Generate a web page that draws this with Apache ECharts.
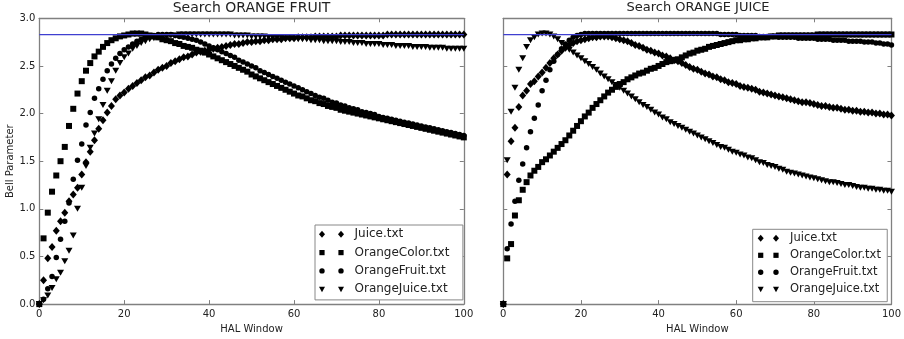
<!DOCTYPE html>
<html>
<head>
<meta charset="utf-8">
<script src="https://cdn.jsdelivr.net/npm/echarts@6/dist/echarts.min.js"></script>
<style>
  html, body { margin: 0; padding: 0; background: #fff; }
  #chart { width: 904px; height: 339px; }
</style>
</head>
<body>
<div id="chart"></div>
<script>
// HAL window sizes 0..100
const halWindow = Array.from({ length: 101 }, (_, i) => i);

// Tsirelson bound 2*sqrt(2), drawn as a reference line
const tsirelsonBound = 2.828;

const seriesNames = ['Juice.txt', 'OrangeColor.txt', 'OrangeFruit.txt', 'OrangeJuice.txt'];
const xTicks = [0, 20, 40, 60, 80, 100];
const yTicks = [0.0, 0.5, 1.0, 1.5, 2.0, 2.5, 3.0];

// ---- Search ORANGE FRUIT ----
const fruitJuice = [
  0.00,0.25,0.48,0.60,0.77,0.87,0.96,1.08,1.15,1.22,
  1.36,1.49,1.60,1.72,1.84,1.93,2.01,2.08,2.15,2.19,
  2.22,2.26,2.29,2.32,2.35,2.38,2.40,2.43,2.46,2.48,
  2.50,2.53,2.55,2.57,2.59,2.60,2.62,2.64,2.65,2.66,
  2.67,2.68,2.69,2.70,2.71,2.72,2.73,2.73,2.74,2.75,
  2.75,2.76,2.76,2.77,2.77,2.78,2.78,2.78,2.79,2.79,
  2.79,2.80,2.80,2.80,2.80,2.81,2.81,2.81,2.81,2.81,
  2.81,2.82,2.82,2.82,2.82,2.82,2.82,2.82,2.82,2.82,
  2.82,2.82,2.83,2.83,2.83,2.83,2.83,2.83,2.83,2.83,
  2.83,2.83,2.83,2.83,2.83,2.83,2.83,2.83,2.83,2.83,2.83
];
const fruitOrangeColor = [
  0.00,0.69,0.96,1.18,1.35,1.50,1.65,1.87,2.05,2.21,
  2.34,2.45,2.53,2.60,2.65,2.70,2.74,2.77,2.79,2.81,
  2.82,2.83,2.84,2.84,2.84,2.83,2.82,2.81,2.80,2.78,
  2.77,2.76,2.74,2.73,2.71,2.70,2.69,2.67,2.66,2.64,
  2.62,2.60,2.58,2.56,2.54,2.52,2.50,2.48,2.46,2.44,
  2.41,2.39,2.37,2.35,2.33,2.31,2.29,2.27,2.25,2.23,
  2.21,2.19,2.18,2.16,2.14,2.13,2.11,2.10,2.08,2.07,
  2.06,2.04,2.03,2.02,2.01,2.00,1.99,1.98,1.97,1.96,
  1.95,1.94,1.93,1.92,1.91,1.90,1.89,1.88,1.87,1.86,
  1.85,1.84,1.83,1.82,1.81,1.80,1.79,1.78,1.77,1.76,1.75
];
const fruitOrangeFruit = [
  0.00,0.05,0.16,0.29,0.49,0.68,0.87,1.06,1.31,1.51,
  1.68,1.88,2.01,2.16,2.26,2.36,2.45,2.52,2.58,2.63,
  2.67,2.70,2.73,2.76,2.78,2.80,2.81,2.82,2.83,2.83,
  2.83,2.83,2.82,2.81,2.80,2.79,2.78,2.77,2.75,2.73,
  2.71,2.69,2.67,2.65,2.63,2.61,2.59,2.56,2.54,2.52,
  2.50,2.48,2.45,2.43,2.41,2.39,2.37,2.35,2.33,2.31,
  2.29,2.27,2.25,2.23,2.21,2.19,2.17,2.16,2.14,2.12,
  2.11,2.09,2.08,2.06,2.05,2.04,2.02,2.01,2.00,1.99,
  1.97,1.96,1.95,1.94,1.93,1.92,1.91,1.90,1.89,1.88,
  1.87,1.86,1.85,1.84,1.83,1.82,1.81,1.80,1.79,1.78,1.77
];
const fruitOrangeJuice = [
  0.00,0.04,0.09,0.17,0.26,0.33,0.45,0.56,0.72,1.00,
  1.22,1.45,1.64,1.79,1.94,2.09,2.24,2.34,2.45,2.53,
  2.59,2.63,2.68,2.71,2.74,2.76,2.78,2.79,2.80,2.81,
  2.81,2.82,2.82,2.83,2.83,2.83,2.83,2.83,2.83,2.83,
  2.83,2.83,2.83,2.83,2.83,2.83,2.82,2.82,2.82,2.82,
  2.81,2.81,2.81,2.81,2.80,2.80,2.80,2.80,2.79,2.79,
  2.79,2.78,2.78,2.78,2.77,2.77,2.77,2.76,2.76,2.76,
  2.76,2.75,2.75,2.75,2.74,2.74,2.74,2.73,2.73,2.73,
  2.73,2.72,2.72,2.72,2.71,2.71,2.71,2.71,2.70,2.70,
  2.70,2.70,2.69,2.69,2.69,2.69,2.68,2.68,2.68,2.68,2.68
];

// ---- Search ORANGE JUICE ----
const juiceJuice = [
  0.00,1.36,1.71,1.85,2.07,2.19,2.24,2.31,2.34,2.39,
  2.43,2.48,2.53,2.58,2.62,2.66,2.69,2.72,2.74,2.76,
  2.77,2.78,2.79,2.80,2.80,2.81,2.81,2.81,2.80,2.79,
  2.78,2.77,2.76,2.74,2.72,2.71,2.69,2.67,2.66,2.64,
  2.63,2.61,2.60,2.58,2.56,2.55,2.53,2.51,2.49,2.47,
  2.46,2.44,2.42,2.41,2.39,2.38,2.36,2.35,2.33,2.32,
  2.31,2.29,2.28,2.27,2.26,2.25,2.23,2.22,2.21,2.20,
  2.19,2.18,2.17,2.16,2.15,2.14,2.13,2.12,2.12,2.11,
  2.10,2.09,2.08,2.08,2.07,2.06,2.06,2.05,2.04,2.04,
  2.03,2.03,2.02,2.02,2.01,2.01,2.00,2.00,1.99,1.99,1.98
];
const juiceOrangeColor = [
  0.00,0.48,0.63,0.93,1.09,1.20,1.28,1.35,1.40,1.44,
  1.49,1.52,1.56,1.60,1.64,1.68,1.72,1.77,1.82,1.87,
  1.92,1.97,2.01,2.06,2.10,2.14,2.18,2.22,2.25,2.28,
  2.31,2.33,2.36,2.38,2.40,2.42,2.43,2.45,2.47,2.48,
  2.50,2.52,2.54,2.55,2.56,2.57,2.59,2.61,2.63,2.64,
  2.66,2.67,2.68,2.70,2.71,2.72,2.73,2.74,2.75,2.76,
  2.77,2.77,2.78,2.78,2.79,2.79,2.80,2.80,2.80,2.81,
  2.81,2.82,2.82,2.82,2.82,2.82,2.82,2.82,2.82,2.82,
  2.82,2.83,2.83,2.83,2.83,2.83,2.83,2.83,2.83,2.83,
  2.83,2.83,2.83,2.83,2.83,2.83,2.83,2.83,2.83,2.83,2.83
];
const juiceOrangeFruit = [
  0.00,0.58,0.84,1.08,1.30,1.47,1.64,1.81,1.95,2.09,
  2.24,2.35,2.46,2.55,2.62,2.68,2.73,2.77,2.80,2.82,
  2.83,2.84,2.84,2.84,2.84,2.84,2.84,2.84,2.84,2.84,
  2.84,2.84,2.84,2.84,2.84,2.84,2.84,2.84,2.84,2.84,
  2.84,2.84,2.84,2.84,2.84,2.84,2.84,2.84,2.84,2.84,
  2.84,2.84,2.84,2.84,2.84,2.84,2.83,2.83,2.83,2.83,
  2.83,2.82,2.82,2.82,2.82,2.82,2.81,2.81,2.81,2.81,
  2.81,2.80,2.80,2.80,2.80,2.80,2.79,2.79,2.79,2.79,
  2.79,2.78,2.78,2.78,2.78,2.77,2.77,2.77,2.77,2.76,
  2.76,2.76,2.76,2.75,2.75,2.75,2.74,2.74,2.73,2.73,2.72
];
const juiceOrangeJuice = [
  0.00,1.51,2.02,2.27,2.46,2.58,2.70,2.77,2.80,2.83,
  2.84,2.84,2.83,2.81,2.78,2.74,2.70,2.67,2.64,2.61,
  2.58,2.55,2.52,2.49,2.46,2.42,2.39,2.36,2.33,2.30,
  2.27,2.24,2.21,2.18,2.15,2.12,2.09,2.07,2.04,2.01,
  1.99,1.96,1.94,1.91,1.89,1.87,1.85,1.83,1.81,1.79,
  1.77,1.75,1.73,1.71,1.69,1.67,1.65,1.64,1.62,1.60,
  1.59,1.57,1.56,1.54,1.53,1.51,1.49,1.48,1.46,1.45,
  1.44,1.42,1.41,1.39,1.38,1.37,1.36,1.35,1.34,1.33,
  1.32,1.31,1.30,1.29,1.28,1.28,1.27,1.26,1.25,1.25,
  1.24,1.23,1.22,1.22,1.21,1.21,1.20,1.20,1.19,1.19,1.18
];

const FONT = 'DejaVu Sans';
const TEXT = '#222';
const FRAME = '#808080';

// marker per file; legend icons are drawn inside a fixed 7x7 frame
// (the two zero-length segments pin the frame corners)
const ICON_FRAME = 'M0,0L0,0M7,7L7,7';
const markers = {
  'Juice.txt': {
    symbol: 'diamond', size: [7, 8],
    icon: 'path://' + ICON_FRAME + 'M3.5,0L6.5,3.5L3.5,7L0.5,3.5Z'
  },
  'OrangeColor.txt': {
    symbol: 'rect', size: 6,
    icon: 'path://' + ICON_FRAME + 'M0.9,0.9L6.1,0.9L6.1,6.1L0.9,6.1Z'
  },
  'OrangeFruit.txt': {
    symbol: 'circle', size: 5.5,
    icon: 'path://' + ICON_FRAME + 'M0.8,3.5A2.7,2.7,0,1,1,6.2,3.5A2.7,2.7,0,1,1,0.8,3.5Z'
  },
  'OrangeJuice.txt': {
    symbol: 'triangle', size: [7, 6], rotate: 180,
    icon: 'path://' + ICON_FRAME + 'M0.5,1L6.5,1L3.5,6.5Z'
  }
};

function scatter(name, values, panel) {
  const m = markers[name];
  return {
    type: 'scatter',
    name: name,
    xAxisIndex: panel * 2,
    yAxisIndex: panel * 2,
    data: values.map((v, i) => [halWindow[i], v]),
    symbol: m.symbol,
    symbolSize: m.size,
    symbolRotate: m.rotate || 0,
    itemStyle: { color: '#000', opacity: 1 },
    silent: true,
    z: 2
  };
}

function boundLine(panel) {
  return {
    type: 'line',
    xAxisIndex: panel * 2,
    yAxisIndex: panel * 2,
    data: [[halWindow[0], tsirelsonBound], [halWindow[halWindow.length - 1], tsirelsonBound]],
    symbol: 'none',
    lineStyle: { color: '#3f3fd0', width: 1.2 },
    silent: true,
    z: 3
  };
}

function xAxis(grid, position, withLabels) {
  return {
    gridIndex: grid,
    type: 'value',
    position: position,
    min: xTicks[0],
    max: xTicks[xTicks.length - 1],
    interval: xTicks[1] - xTicks[0],
    name: withLabels ? 'HAL Window' : '',
    nameLocation: 'middle',
    nameGap: 18,
    nameTextStyle: { fontFamily: FONT, fontSize: 10, color: TEXT },
    axisLine: { show: true, onZero: false, lineStyle: { color: FRAME, width: 1.3 } },
    axisTick: { show: true, inside: true, length: 4, lineStyle: { color: FRAME } },
    axisLabel: { show: withLabels, margin: 5, fontFamily: FONT, fontSize: 10, color: TEXT },
    splitLine: { show: false }
  };
}

function yAxis(grid, position, withLabels, withName) {
  return {
    gridIndex: grid,
    type: 'value',
    position: position,
    min: yTicks[0],
    max: yTicks[yTicks.length - 1],
    interval: yTicks[1] - yTicks[0],
    name: withName ? 'Bell Parameter' : '',
    nameLocation: 'middle',
    nameGap: 23,
    nameTextStyle: { fontFamily: FONT, fontSize: 10, color: TEXT },
    axisLine: { show: true, onZero: false, lineStyle: { color: FRAME, width: 1.3 } },
    axisTick: { show: true, inside: true, length: 4, lineStyle: { color: FRAME } },
    axisLabel: { show: withLabels, margin: 4, fontFamily: FONT, fontSize: 10, color: TEXT,
                 formatter: v => v.toFixed(1) },
    splitLine: { show: false }
  };
}

// each legend row shows the marker twice: one legend carries the first
// marker column, a second one carries the framed box, marker and text
function legendPair(box, fontSize, lineHeight, gap, padTop, padBottom, padRight, firstIconX, secondIconX, textX) {
  const half = 3.5;
  const padLeft = secondIconX - half - box.left;
  const textPad = textX - (secondIconX + half + 5);
  const common = {
    data: seriesNames.map(n => ({ name: n, icon: markers[n].icon })),
    orient: 'vertical',
    top: box.top,
    itemWidth: 7,
    itemHeight: 7,
    itemGap: gap,
    symbolRotate: 0,
    symbolKeepAspect: true,
    itemStyle: { color: '#000', borderWidth: 0 },
    selectedMode: false
  };
  return [
    Object.assign({}, common, {
      left: box.left,
      padding: [padTop, padRight, padBottom, padLeft],
      borderColor: '#888',
      borderWidth: 1,
      backgroundColor: '#fff',
      textStyle: { fontFamily: FONT, fontSize: fontSize, color: TEXT, lineHeight: lineHeight,
                   padding: [0, 0, 0, textPad] },
      z: 4
    }),
    Object.assign({}, common, {
      left: firstIconX - half,
      padding: [padTop, 0, padBottom, 0],
      formatter: () => '\u00a0',
      textStyle: { fontFamily: FONT, fontSize: fontSize, lineHeight: lineHeight },
      z: 5
    })
  ];
}

const chart = echarts.init(document.getElementById('chart'), null, { renderer: 'canvas' });

chart.setOption({
  animation: false,
  backgroundColor: '#fff',
  title: [
    { text: 'Search ORANGE FRUIT', left: 251.5, top: 1, textAlign: 'center', padding: 0,
      textStyle: { fontFamily: FONT, fontSize: 14, fontWeight: 'normal', color: TEXT } },
    { text: 'Search ORANGE JUICE', left: 698, top: 1.5, textAlign: 'center', padding: 0,
      textStyle: { fontFamily: FONT, fontSize: 13, fontWeight: 'normal', color: TEXT } }
  ],
  grid: [
    { left: 39.3, top: 18.3, width: 424.5, height: 288.4, containLabel: false },
    { left: 503.3, top: 18.3, width: 390, height: 288.4, containLabel: false }
  ],
  xAxis: [
    xAxis(0, 'bottom', true),
    xAxis(0, 'top', false),
    xAxis(1, 'bottom', true),
    xAxis(1, 'top', false)
  ],
  yAxis: [
    yAxis(0, 'left', true, true),
    yAxis(0, 'right', false, false),
    yAxis(1, 'left', false, false),
    yAxis(1, 'right', false, false)
  ],
  legend: [].concat(
    legendPair({ left: 315, top: 225 }, 12, 14, 4.3, 2.3, 3.7, 13.5, 322, 341, 354.5),
    legendPair({ left: 752.7, top: 229.3 }, 11.5, 13, 4, 2.5, 5.9, 6.3, 760.7, 776, 790)
  ),
  series: [
    scatter('Juice.txt', fruitJuice, 0),
    scatter('OrangeColor.txt', fruitOrangeColor, 0),
    scatter('OrangeFruit.txt', fruitOrangeFruit, 0),
    scatter('OrangeJuice.txt', fruitOrangeJuice, 0),
    boundLine(0),
    scatter('Juice.txt', juiceJuice, 1),
    scatter('OrangeColor.txt', juiceOrangeColor, 1),
    scatter('OrangeFruit.txt', juiceOrangeFruit, 1),
    scatter('OrangeJuice.txt', juiceOrangeJuice, 1),
    boundLine(1)
  ]
});
</script>
</body>
</html>
